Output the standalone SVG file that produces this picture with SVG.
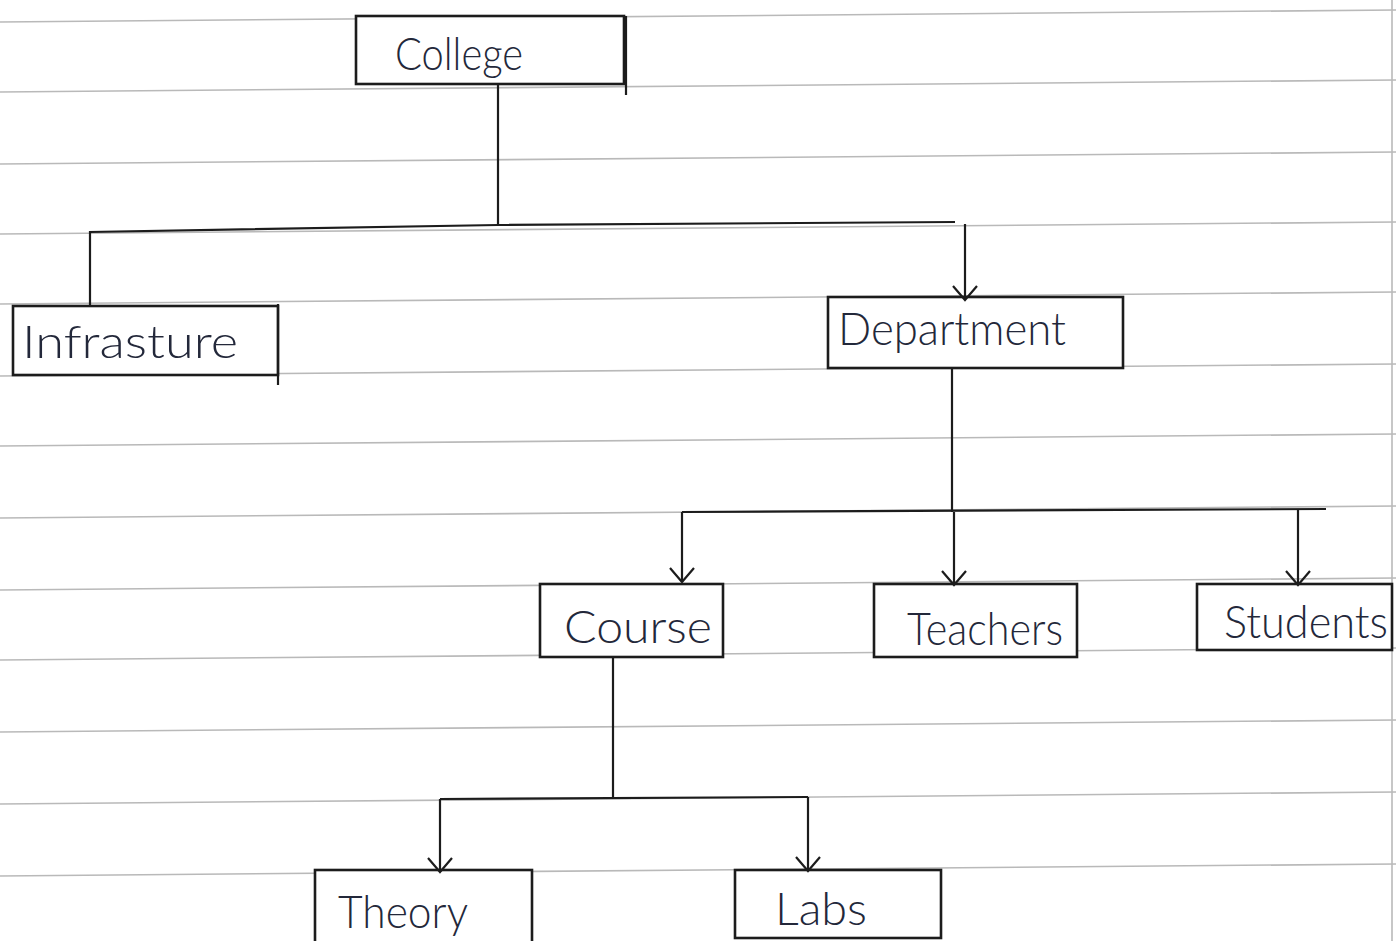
<svg xmlns="http://www.w3.org/2000/svg" width="1396" height="941" viewBox="0 0 1396 941">
<defs>
<style>
.rule{stroke:#b9b9b9;stroke-width:1.6;fill:none}
.box{fill:#ffffff;stroke:#1c1c1c;stroke-width:2.6}
.conn{stroke:#1c1c1c;stroke-width:2.2;fill:none}
.lbl{font-family:Lato,"Liberation Sans",sans-serif;font-weight:300;font-size:46px;fill:#23283a}
</style>
<marker id="vee" viewBox="0 0 18 26" refX="16" refY="13" markerWidth="18" markerHeight="26" markerUnits="userSpaceOnUse" orient="auto">
<polyline points="2,1 16,13 2,25" fill="none" stroke="#1c1c1c" stroke-width="2.2"/>
</marker>
</defs>
<rect x="0" y="0" width="1396" height="941" fill="#ffffff"/>
<g id="paper">
<line class="rule" x1="0" y1="22" x2="1396" y2="10"/>
<line class="rule" x1="0" y1="92" x2="1396" y2="80"/>
<line class="rule" x1="0" y1="164" x2="1396" y2="152"/>
<line class="rule" x1="0" y1="234" x2="1396" y2="222"/>
<line class="rule" x1="0" y1="304" x2="1396" y2="292"/>
<line class="rule" x1="0" y1="376" x2="1396" y2="364"/>
<line class="rule" x1="0" y1="446" x2="1396" y2="434"/>
<line class="rule" x1="0" y1="518" x2="1396" y2="506"/>
<line class="rule" x1="0" y1="590" x2="1396" y2="578"/>
<line class="rule" x1="0" y1="660" x2="1396" y2="648"/>
<line class="rule" x1="0" y1="732" x2="1396" y2="720"/>
<line class="rule" x1="0" y1="804" x2="1396" y2="792"/>
<line class="rule" x1="0" y1="876" x2="1396" y2="864"/>
<line class="rule" x1="1392" y1="0" x2="1392" y2="941"/>
</g>
<g id="college">
<rect class="box" x="356" y="16" width="268" height="68"/>
<line class="conn" x1="626" y1="16" x2="626" y2="95"/>
<text class="lbl" x="395" y="70" textLength="128" lengthAdjust="spacingAndGlyphs">College</text>
</g>
<g id="infrastructure">
<rect class="box" x="13" y="306" width="265" height="69"/>
<line class="conn" x1="278" y1="304" x2="278" y2="385"/>
<text class="lbl" x="22" y="358" textLength="216" lengthAdjust="spacingAndGlyphs">Infrasture</text>
</g>
<g id="department">
<rect class="box" x="828" y="297" width="295" height="71"/>
<text class="lbl" x="838" y="345" textLength="228" lengthAdjust="spacingAndGlyphs">Department</text>
</g>
<g id="course">
<rect class="box" x="540" y="584" width="183" height="73"/>
<text class="lbl" x="564" y="643" textLength="148" lengthAdjust="spacingAndGlyphs">Course</text>
</g>
<g id="teachers">
<rect class="box" x="874" y="584" width="203" height="73"/>
<text class="lbl" x="907" y="645" textLength="156" lengthAdjust="spacingAndGlyphs">Teachers</text>
</g>
<g id="students">
<rect class="box" x="1197" y="584" width="195" height="66"/>
<text class="lbl" x="1224" y="638" textLength="164" lengthAdjust="spacingAndGlyphs">Students</text>
</g>
<g id="theory">
<rect class="box" x="315" y="870" width="217" height="75"/>
<text class="lbl" x="338" y="928" textLength="130" lengthAdjust="spacingAndGlyphs">Theory</text>
</g>
<g id="labs">
<rect class="box" x="735" y="870" width="206" height="68"/>
<text class="lbl" x="775" y="925" textLength="92" lengthAdjust="spacingAndGlyphs">Labs</text>
</g>
<g id="connectors">
<line class="conn" x1="498" y1="85" x2="498" y2="225"/>
<polyline class="conn" points="90,305 90,232 498,225 955,222"/>
<line class="conn" x1="965" y1="224" x2="965" y2="300" marker-end="url(#vee)"/>
<line class="conn" x1="952" y1="368" x2="952" y2="512"/>
<line class="conn" x1="682" y1="512" x2="1326" y2="509"/>
<line class="conn" x1="682" y1="512" x2="682" y2="582" marker-end="url(#vee)"/>
<line class="conn" x1="954" y1="512" x2="954" y2="585" marker-end="url(#vee)"/>
<line class="conn" x1="1298" y1="510" x2="1298" y2="585" marker-end="url(#vee)"/>
<line class="conn" x1="613" y1="657" x2="613" y2="797"/>
<line class="conn" x1="440" y1="799" x2="808" y2="797"/>
<line class="conn" x1="440" y1="799" x2="440" y2="872" marker-end="url(#vee)"/>
<line class="conn" x1="808" y1="797" x2="808" y2="871" marker-end="url(#vee)"/>
</g>
</svg>
